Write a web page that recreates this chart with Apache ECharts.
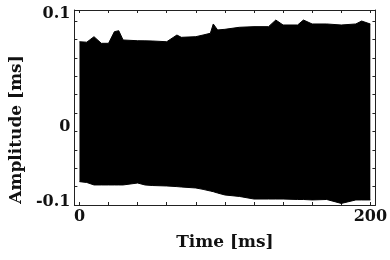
<!DOCTYPE html>
<html>
<head>
<meta charset="utf-8">
<script src="https://cdn.jsdelivr.net/npm/echarts@6/dist/echarts.min.js"></script>
<style>
  html, body { margin: 0; padding: 0; background: #fff; }
  #chart { width: 390px; height: 260px; }
</style>
</head>
<body>
<div id="chart"></div>
<script>
// time points [ms] where the signal envelope was read
const timeMs = [0, 5, 10, 15, 20, 24, 27, 30, 40, 45, 50, 60, 67, 70, 80, 85, 90, 92, 95, 100,
    110, 120, 130, 135, 140, 150, 154, 160, 170, 180, 190, 194, 200];
// upper edge of the (dense) oscillation
const upperEnvelope = [0.0775, 0.077, 0.083, 0.0758, 0.0758, 0.0884, 0.0895, 0.0794, 0.0786, 0.0785, 0.0783, 0.0775, 0.0848, 0.0823, 0.083, 0.0848, 0.0867, 0.0968, 0.0903, 0.091,
    0.0932, 0.0939, 0.0939, 0.1011, 0.0957, 0.0957, 0.1011, 0.0968, 0.0968, 0.0957, 0.0968, 0.100, 0.0968];
// lower edge of the oscillation
const lowerEnvelope = [-0.0746, -0.0755, -0.0782, -0.0782, -0.0782, -0.0782, -0.0782, -0.0782, -0.0761, -0.0782, -0.0788, -0.0793, -0.0800, -0.0804, -0.0815, -0.083, -0.0848, -0.0855, -0.087, -0.0891,
    -0.0907, -0.0935, -0.0935, -0.0935, -0.0935, -0.094, -0.094, -0.0945, -0.094, -0.0983, -0.0945, -0.0945, -0.0945];

const xLabelValues = [0, 200];
const xTickValues = [0, 20, 40, 60, 80, 100, 120, 140, 160, 180, 200];
const yLabelValues = [-0.1, 0, 0.1];
const yTickValues = [-0.1, -0.08, -0.06, -0.04, -0.02, 0, 0.02, 0.04, 0.06, 0.08, 0.1];

let myChart = echarts.init(document.getElementById('chart'), null, { renderer: 'canvas' });

const frameColor = '#222';
const labelFont = 'DejaVu Serif';
const tickFont = { fontFamily: labelFont, fontWeight: 'bold', fontSize: 16, color: '#111' };

function pairs(ys) {
    return timeMs.map((t, i) => [t, ys[i]]);
}

let option = {
    animation: false,
    backgroundColor: '#fff',
    grid: { left: 72, right: 10, top: 10, bottom: 55 },
    xAxis: [{
        type: 'value',
        min: -3.5,
        max: 203.5,
        name: 'Time [ms]',
        nameLocation: 'middle',
        nameGap: 29,
        nameTextStyle: { fontFamily: labelFont, fontWeight: 'bold', fontSize: 17, color: '#111' },
        axisLine: { show: true, onZero: false, lineStyle: { color: frameColor, width: 1 } },
        axisTick: { show: true, inside: true, length: 3, customValues: xTickValues, lineStyle: { color: frameColor } },
        axisLabel: Object.assign({ customValues: xLabelValues, margin: 4 }, tickFont),
        splitLine: { show: false }
    }, {
        type: 'value',
        position: 'top',
        min: -3.5,
        max: 203.5,
        axisLine: { show: true, onZero: false, lineStyle: { color: frameColor, width: 1 } },
        axisTick: { show: true, inside: true, length: 3, customValues: xTickValues, lineStyle: { color: frameColor } },
        axisLabel: { show: false },
        splitLine: { show: false }
    }],
    yAxis: [{
        type: 'value',
        min: -0.1,
        max: 0.112,
        name: 'Amplitude [ms]',
        nameLocation: 'middle',
        nameGap: 44,
        nameTextStyle: { fontFamily: labelFont, fontWeight: 'bold', fontSize: 17, color: '#111', padding: [0, 44, 0, 0] },
        axisLine: { show: true, onZero: false, lineStyle: { color: frameColor, width: 1 } },
        axisTick: { show: true, inside: true, length: 3, customValues: yTickValues, lineStyle: { color: frameColor } },
        axisLabel: Object.assign({
            customValues: yLabelValues,
            margin: 4,
            formatter: function(v) {
                if (v > 0.05) return '{up|0.1}'
                if (v < -0.05) return '{dn|-0.1}'
                return '{mid|0}'
            },
            rich: {
                up: Object.assign({ padding: [0, 0, 14, 0] }, tickFont),
                mid: Object.assign({ padding: [28, 0, 0, 0] }, tickFont),
                dn: Object.assign({ padding: [0, 0, 6, 0] }, tickFont)
            }
        }, tickFont),
        splitLine: { show: false }
    }, {
        type: 'value',
        position: 'right',
        min: -0.1,
        max: 0.112,
        axisLine: { show: true, onZero: false, lineStyle: { color: frameColor, width: 1 } },
        axisTick: { show: true, inside: true, length: 3, customValues: yTickValues, lineStyle: { color: frameColor } },
        axisLabel: { show: false },
        splitLine: { show: false }
    }],
    series: [{
        name: 'upper',
        type: 'line',
        data: pairs(upperEnvelope),
        symbol: 'none',
        lineStyle: { color: '#000', width: 1 },
        areaStyle: { color: '#000', opacity: 1 }
    }, {
        name: 'lower',
        type: 'line',
        data: pairs(lowerEnvelope),
        symbol: 'none',
        lineStyle: { color: '#000', width: 1 },
        areaStyle: { color: '#000', opacity: 1 }
    }]
};
myChart.setOption(option);
</script>
</body>
</html>
